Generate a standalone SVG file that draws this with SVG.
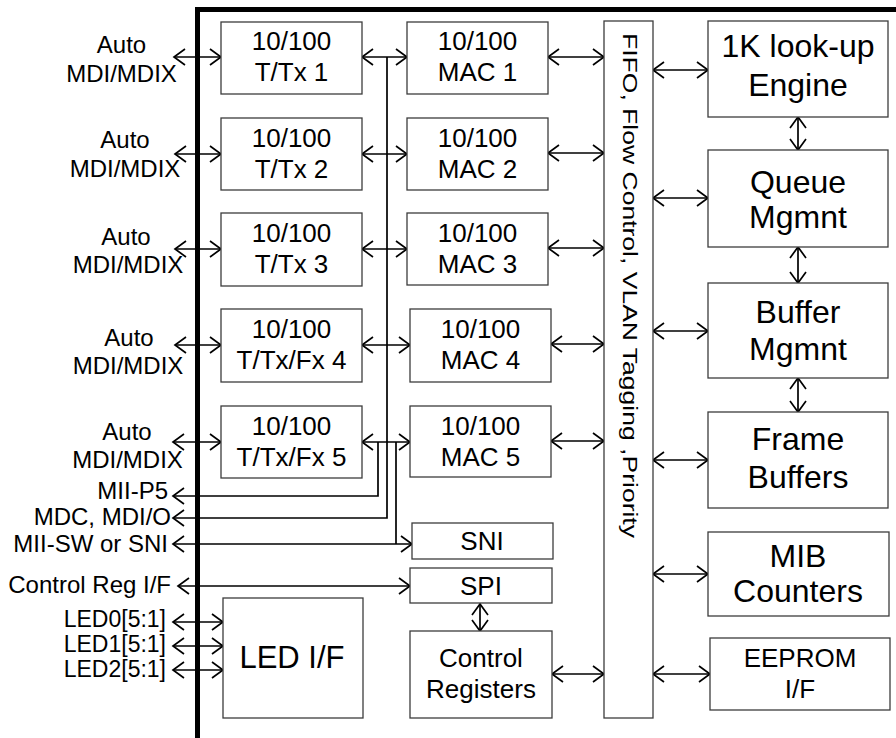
<svg xmlns="http://www.w3.org/2000/svg" width="896" height="738" viewBox="0 0 896 738">
<style>
.box{fill:#fff;stroke:#3c3c3c;stroke-width:1.3}
.w{fill:none;stroke:#000;stroke-width:1.7}
.t{font-family:"Liberation Sans",Arial,sans-serif;fill:#000}
.s24{font-size:24px}
.s26{font-size:26px;text-anchor:middle}
.s32{font-size:32px;text-anchor:middle}
.m{text-anchor:middle}
.e{text-anchor:end}
.led{font-size:23px}
</style>
<defs>
<marker id="a" viewBox="0 0 14 20" refX="12" refY="10" markerWidth="14" markerHeight="20" markerUnits="userSpaceOnUse" orient="auto-start-reverse">
<path d="M1,2 L12,10 L1,18" fill="none" stroke="#000" stroke-width="1.7"/>
</marker>
</defs>
<rect width="896" height="738" fill="#fff"/>
<path d="M197.5,738 V9.5 H896" fill="none" stroke="#000" stroke-width="5"/>

<g id="connectors" class="w">
<g marker-start="url(#a)" marker-end="url(#a)">
<path d="M174,57 H221"/>
<path d="M175,154 H221"/>
<path d="M175,249 H221"/>
<path d="M175,345 H221"/>
<path d="M173,442 H221"/>
<path d="M362,57 H407"/>
<path d="M362,154 H407"/>
<path d="M362,249 H407"/>
<path d="M362,345 H410"/>
<path d="M362,442 H410"/>
<path d="M548,57 H604"/>
<path d="M548,153 H604"/>
<path d="M548,248 H604"/>
<path d="M551,344 H604"/>
<path d="M551,441 H604"/>
<path d="M173,544 H412"/>
<path d="M178,586 H410"/>
<path d="M173,622 H223"/>
<path d="M173,646 H223"/>
<path d="M173,670 H223"/>
<path d="M480,604 V631"/>
<path d="M552,674 H604"/>
<path d="M653,70 H708"/>
<path d="M653,198 H708"/>
<path d="M653,331 H708"/>
<path d="M653,460 H708"/>
<path d="M653,574 H708"/>
<path d="M653,674 H710"/>
<path d="M798,117 V150"/>
<path d="M798,247 V283"/>
<path d="M798,378 V412"/>
</g>
<path d="M387,57 V518 H173" marker-end="url(#a)"/>
<path d="M378,442 V496 H173" marker-end="url(#a)"/>
<path d="M396,442 V544"/>
</g>

<g id="ext-labels" class="t s24">
<text class="m" x="121.5" y="53">Auto</text><text class="m" x="121.5" y="82">MDI/MDIX</text>
<text class="m" x="125" y="148">Auto</text><text class="m" x="125" y="177">MDI/MDIX</text>
<text class="m" x="126" y="245">Auto</text><text class="m" x="128" y="273">MDI/MDIX</text>
<text class="m" x="129" y="346">Auto</text><text class="m" x="128" y="374">MDI/MDIX</text>
<text class="m" x="127" y="440">Auto</text><text class="m" x="127.5" y="468">MDI/MDIX</text>
<text class="e" x="168" y="499">MII-P5</text>
<text class="e" x="171" y="525">MDC, MDI/O</text>
<text class="e" x="168" y="552">MII-SW or SNI</text>
<text class="e" x="171" y="593">Control Reg I/F</text>
<text class="e led" x="166" y="627">LED0[5:1]</text>
<text class="e led" x="166" y="652">LED1[5:1]</text>
<text class="e led" x="166" y="677">LED2[5:1]</text>
</g>

<g id="ttx1"><rect class="box" x="221" y="22" width="141" height="72"/><text class="t s26" x="291.5" y="50">10/100</text><text class="t s26" x="291.5" y="81">T/Tx 1</text></g>
<g id="ttx2"><rect class="box" x="221" y="118" width="141" height="72"/><text class="t s26" x="291.5" y="147">10/100</text><text class="t s26" x="291.5" y="178">T/Tx 2</text></g>
<g id="ttx3"><rect class="box" x="221" y="213" width="141" height="73"/><text class="t s26" x="291.5" y="242">10/100</text><text class="t s26" x="291.5" y="273">T/Tx 3</text></g>
<g id="ttx4"><rect class="box" x="221" y="309" width="141" height="73"/><text class="t s26" x="291.5" y="338">10/100</text><text class="t s26" x="291.5" y="369">T/Tx/Fx 4</text></g>
<g id="ttx5"><rect class="box" x="221" y="406" width="141" height="72"/><text class="t s26" x="291.5" y="435">10/100</text><text class="t s26" x="291.5" y="466">T/Tx/Fx 5</text></g>

<g id="mac1"><rect class="box" x="407" y="22" width="141" height="72"/><text class="t s26" x="477.5" y="50">10/100</text><text class="t s26" x="477.5" y="81">MAC 1</text></g>
<g id="mac2"><rect class="box" x="407" y="118" width="141" height="72"/><text class="t s26" x="477.5" y="147">10/100</text><text class="t s26" x="477.5" y="178">MAC 2</text></g>
<g id="mac3"><rect class="box" x="407" y="213" width="141" height="72"/><text class="t s26" x="477.5" y="242">10/100</text><text class="t s26" x="477.5" y="273">MAC 3</text></g>
<g id="mac4"><rect class="box" x="410" y="309" width="141" height="73"/><text class="t s26" x="480.5" y="338">10/100</text><text class="t s26" x="480.5" y="369">MAC 4</text></g>
<g id="mac5"><rect class="box" x="410" y="406" width="141" height="71"/><text class="t s26" x="480.5" y="435">10/100</text><text class="t s26" x="480.5" y="466">MAC 5</text></g>

<g id="sni"><rect class="box" x="412" y="523" width="141" height="36"/><text class="t s26" x="482" y="550">SNI</text></g>
<g id="spi"><rect class="box" x="410" y="568" width="142" height="35"/><text class="t s26" x="481" y="595">SPI</text></g>
<g id="ctrlreg"><rect class="box" x="410" y="631" width="142" height="87"/><text class="t s26" x="481" y="667">Control</text><text class="t s26" x="481" y="698">Registers</text></g>
<g id="led"><rect class="box" x="223" y="598" width="140" height="120"/><text class="t" x="292" y="668" font-size="31" text-anchor="middle">LED I/F</text></g>

<g id="fifo"><rect class="box" x="604" y="21" width="49" height="697"/><text class="t" transform="translate(623,33) rotate(90)" font-size="21" textLength="505" lengthAdjust="spacingAndGlyphs">FIFO, Flow Control, VLAN Tagging ,Priority</text></g>

<g id="lookup"><rect class="box" x="708" y="21" width="180" height="96"/><text class="t s32" x="798" y="57">1K look-up</text><text class="t s32" x="798" y="96">Engine</text></g>
<g id="queue"><rect class="box" x="708" y="150" width="180" height="97"/><text class="t s32" x="798" y="193">Queue</text><text class="t s32" x="798" y="228">Mgmnt</text></g>
<g id="buffer"><rect class="box" x="708" y="283" width="180" height="95"/><text class="t s32" x="798" y="323">Buffer</text><text class="t s32" x="798" y="360">Mgmnt</text></g>
<g id="frame"><rect class="box" x="708" y="412" width="180" height="96"/><text class="t s32" x="798" y="450">Frame</text><text class="t s32" x="798" y="488">Buffers</text></g>
<g id="mib"><rect class="box" x="708" y="532" width="181" height="84"/><text class="t s32" x="798" y="567">MIB</text><text class="t s32" x="798" y="602">Counters</text></g>
<g id="eeprom"><rect class="box" x="710" y="638" width="180" height="72"/><text class="t s26" x="800" y="667">EEPROM</text><text class="t s26" x="800" y="698">I/F</text></g>
</svg>
